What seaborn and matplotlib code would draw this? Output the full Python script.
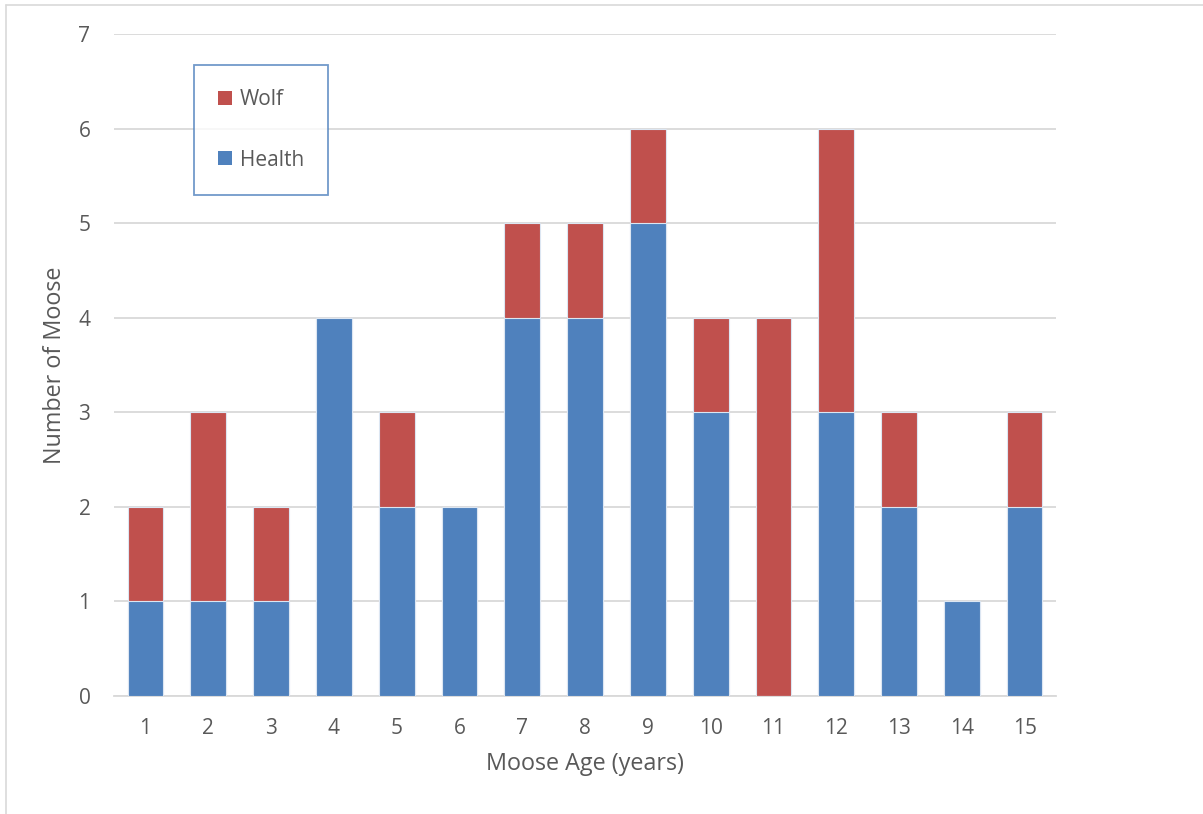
import pandas as pd
import numpy as np
import seaborn as sns
import matplotlib.pyplot as plt
from matplotlib.lines import Line2D
from matplotlib.patches import Patch

# Moose deaths by age and cause
ages = [str(a) for a in range(1, 16)]
health = [1, 1, 1, 4, 2, 2, 4, 4, 5, 3, 0, 3, 2, 1, 2]
wolf = [1, 2, 1, 0, 1, 0, 1, 1, 1, 1, 4, 3, 1, 0, 1]

blue = '#4F81BD'
red = '#C0504D'
text_col = '#595959'
grid_col = '#D9D9D9'

df = pd.DataFrame({'age': ages, 'Health': health, 'Wolf': wolf})
df['total'] = df['Health'] + df['Wolf']

sns.set_style('white')
plt.rcParams['font.family'] = ['Open Sans', 'DejaVu Sans']

fig = plt.figure(figsize=(12.03, 8.14), dpi=100)
ax = fig.add_axes([0.0948, 0.145, 0.783, 0.813])

# total bar in red, health drawn over it in blue -> stacked look
sns.barplot(data=df, x='age', y='total', order=ages, color=red, saturation=1,
            width=0.57, edgecolor='#DCE6F2', linewidth=0.8, ax=ax, zorder=3)
sns.barplot(data=df, x='age', y='Health', order=ages, color=blue, saturation=1,
            width=0.57, edgecolor='#DCE6F2', linewidth=0.8, ax=ax, zorder=4)

ax.set_xlim(-0.5, 14.5)
ax.set_ylim(0, 7)
ax.set_yticks(range(0, 8))
ax.yaxis.grid(True, color=grid_col, linewidth=1.3)
ax.set_axisbelow(True)
for s in ['top', 'right', 'left']:
    ax.spines[s].set_visible(False)
ax.spines['bottom'].set_color(grid_col)
ax.spines['bottom'].set_linewidth(1.3)
ax.tick_params(axis='both', length=0, labelsize=15, labelcolor=text_col)
ax.tick_params(axis='y', pad=17)
ax.tick_params(axis='x', pad=16)

ax.set_xlabel('Moose Age (years)', fontsize=16.8, color=text_col, labelpad=9)
ax.set_ylabel('Number of Moose', fontsize=16.8, color=text_col, labelpad=8)

handles = [Patch(facecolor=red, edgecolor='none'), Patch(facecolor=blue, edgecolor='none')]
leg = fig.legend(handles, ['Wolf', 'Health'], loc='upper left',
                 bbox_to_anchor=(0.1613, 0.920), fontsize=15, labelcolor=text_col,
                 frameon=True, fancybox=False, handlelength=0.65, handleheight=0.65,
                 handletextpad=0.4, labelspacing=1.9, borderpad=1.15, borderaxespad=0)
leg.get_frame().set_edgecolor(blue)
leg.get_frame().set_linewidth(1.3)

# figure frame (top and left edges)
fig.add_artist(Line2D([0.005, 1.0], [0.994, 0.994], color=grid_col, linewidth=1.2))
fig.add_artist(Line2D([0.005, 0.005], [0.0, 0.994], color=grid_col, linewidth=1.2))

fig.savefig('out.png', dpi=100)
